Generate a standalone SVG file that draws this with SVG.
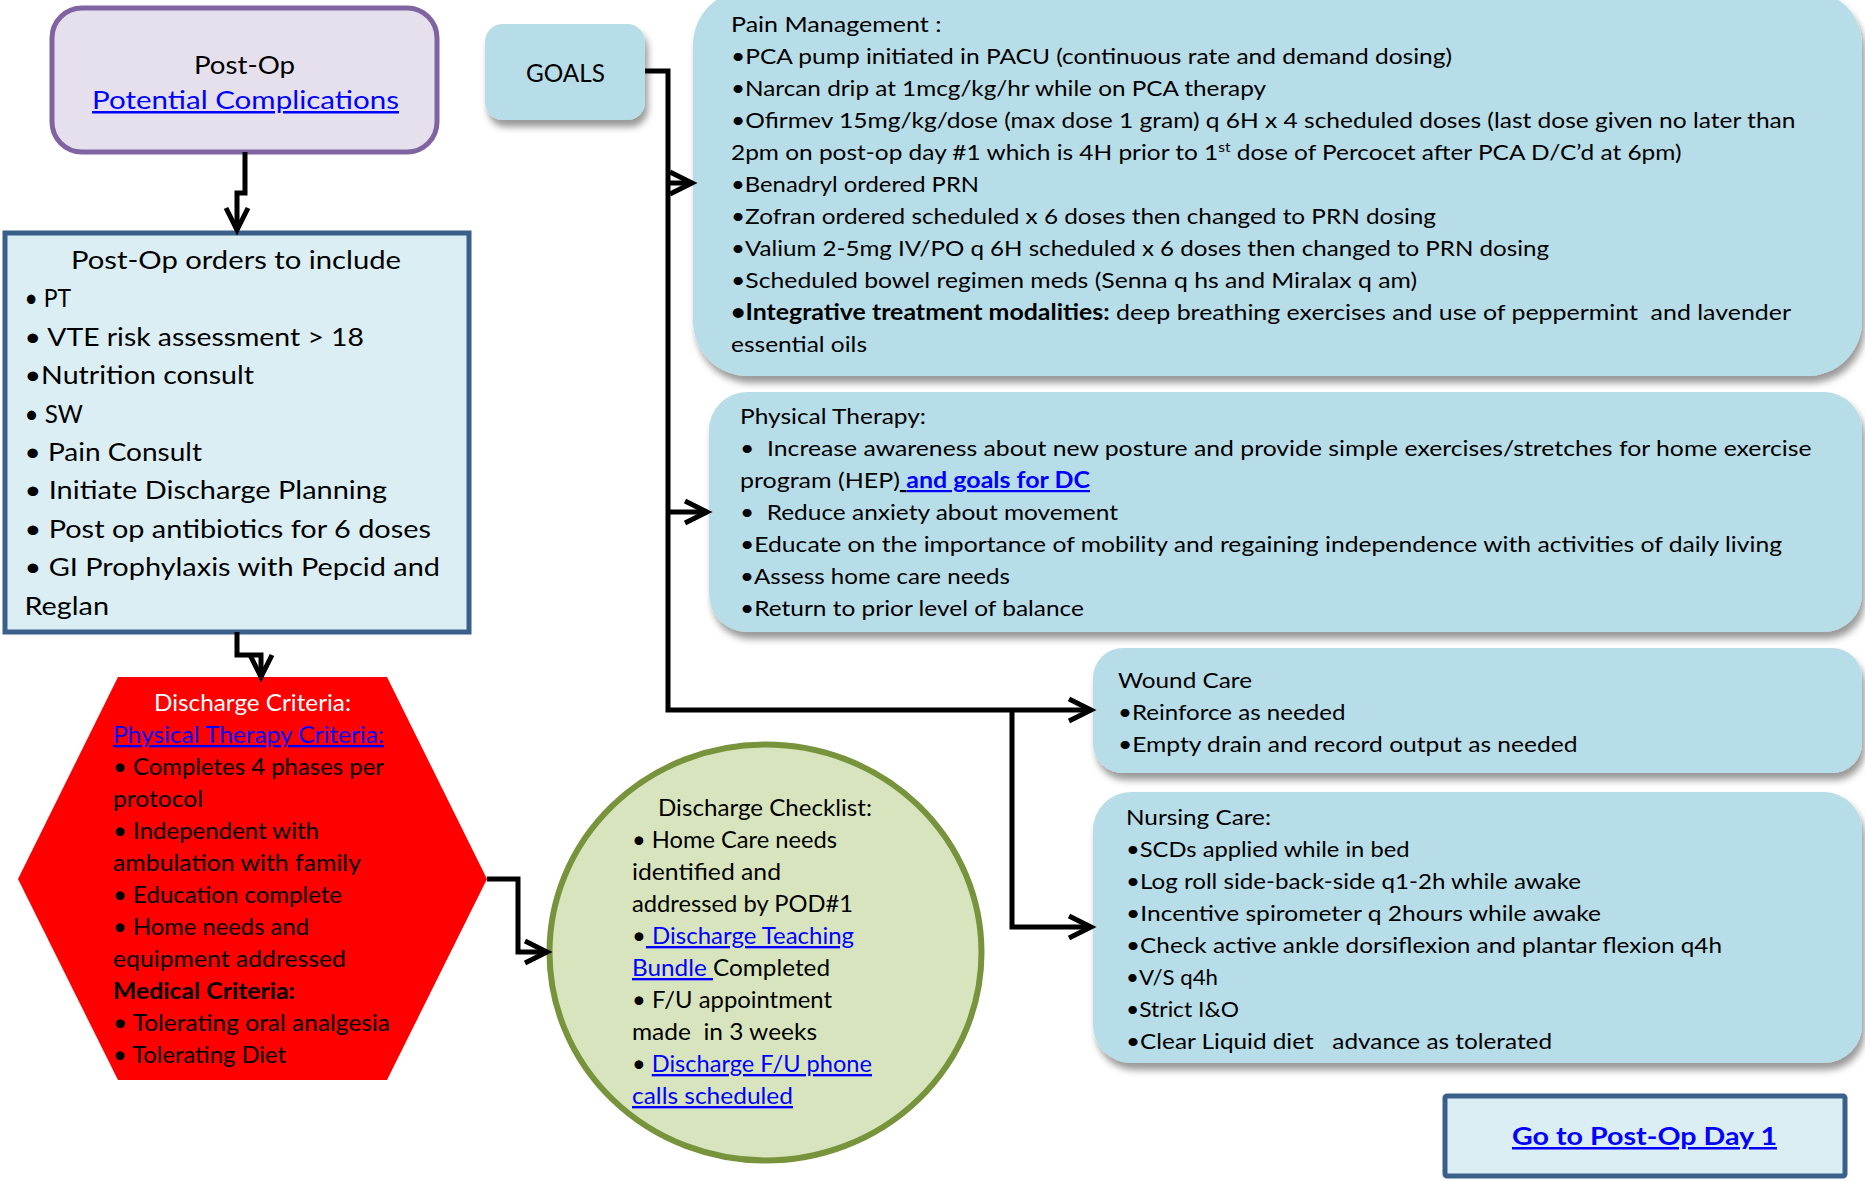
<svg xmlns="http://www.w3.org/2000/svg" width="1865" height="1181" viewBox="0 0 1865 1181">
  <defs>
    <style>
      text { font-family: Lato, "Liberation Sans", sans-serif; fill: #000; white-space: pre; }
      .t22 { font-size: 22px; }
      .t23 { font-size: 23.5px; }
      .t25 { font-size: 25px; }
      .link { fill: #0000FF; text-decoration: underline; }
      .bold { font-weight: bold; }
      .wht { fill: #FFFFFF; }
      .goal { fill: #B7DDE8; filter: url(#shadow); }
      .order { fill: #DBEEF4; stroke: #3A5F8B; stroke-width: 5; }
      .conn { fill: none; stroke: #000; stroke-width: 5; }
      .arr { marker-end: url(#arrow); }
    </style>
    <filter id="shadow" x="-10%" y="-10%" width="125%" height="130%">
      <feDropShadow dx="3" dy="7" stdDeviation="3.5" flood-color="#000" flood-opacity="0.4"/>
    </filter>
    <marker id="arrow" markerUnits="userSpaceOnUse" markerWidth="32" markerHeight="32" viewBox="0 0 32 32" refX="26" refY="16" orient="auto">
      <path d="M4,5 L26,16 L4,27" fill="none" stroke="#000" stroke-width="5" stroke-linejoin="miter"/>
    </marker>
  </defs>
  <rect width="1865" height="1181" fill="#FFFFFF"/>

  <!-- Post-Op header -->
  <g id="postop">
    <rect x="52" y="8" width="385" height="144" rx="30" fill="#E5E0EC" stroke="#8064A2" stroke-width="5"/>
    <text class="t25" x="194" y="74" textLength="101" lengthAdjust="spacingAndGlyphs">Post-Op</text>
    <text class="t25 link" x="92" y="109" textLength="307" lengthAdjust="spacingAndGlyphs">Potential Complications</text>
  </g>

  <!-- Goals tab -->
  <g id="goals">
    <rect class="goal" x="485" y="24" width="160" height="96" rx="18"/>
    <text class="t25" x="526" y="82" textLength="79" lengthAdjust="spacingAndGlyphs">GOALS</text>
  </g>

  <!-- Post-op orders -->
  <g id="orders">
    <rect class="order" x="5" y="233" width="464" height="399"/>
    <text class="t25" x="71" y="269" textLength="330" lengthAdjust="spacingAndGlyphs">Post-Op orders to include</text>
    <text class="t25" x="24.5" y="307.4" textLength="46.5" lengthAdjust="spacingAndGlyphs">• PT</text>
    <text class="t25" x="24.5" y="345.8" textLength="339.5" lengthAdjust="spacingAndGlyphs">• VTE risk assessment &gt; 18</text>
    <text class="t25" x="24.5" y="384.2" textLength="229.5" lengthAdjust="spacingAndGlyphs">•Nutrition consult</text>
    <text class="t25" x="24.5" y="422.6" textLength="58.5" lengthAdjust="spacingAndGlyphs">• SW</text>
    <text class="t25" x="24.5" y="461" textLength="177.5" lengthAdjust="spacingAndGlyphs">• Pain Consult</text>
    <text class="t25" x="24.5" y="499.4" textLength="362.5" lengthAdjust="spacingAndGlyphs">• Initiate Discharge Planning</text>
    <text class="t25" x="24.5" y="537.8" textLength="406.5" lengthAdjust="spacingAndGlyphs">• Post op antibiotics for 6 doses</text>
    <text class="t25" x="24.5" y="576.2" textLength="415.5" lengthAdjust="spacingAndGlyphs">• GI Prophylaxis with Pepcid and</text>
    <text class="t25" x="24.5" y="614.6" textLength="84.5" lengthAdjust="spacingAndGlyphs">Reglan</text>
  </g>

  <!-- Discharge criteria hexagon -->
  <g id="criteria">
    <polygon points="118,677 387,677 487,879 387,1080 118,1080 18,879" fill="#FF0000"/>
    <text class="t23 wht" x="154" y="711" textLength="197" lengthAdjust="spacingAndGlyphs">Discharge Criteria:</text>
    <text class="t23 link" x="113" y="743" textLength="271" lengthAdjust="spacingAndGlyphs">Physical Therapy Criteria:</text>
    <text class="t23" x="113" y="775" textLength="271" lengthAdjust="spacingAndGlyphs">• Completes 4 phases per</text>
    <text class="t23" x="113" y="807" textLength="90" lengthAdjust="spacingAndGlyphs">protocol</text>
    <text class="t23" x="113" y="839" textLength="206" lengthAdjust="spacingAndGlyphs">• Independent with</text>
    <text class="t23" x="113" y="871" textLength="248" lengthAdjust="spacingAndGlyphs">ambulation with family</text>
    <text class="t23" x="113" y="903" textLength="229" lengthAdjust="spacingAndGlyphs">• Education complete</text>
    <text class="t23" x="113" y="935" textLength="196" lengthAdjust="spacingAndGlyphs">• Home needs and</text>
    <text class="t23" x="113" y="967" textLength="233" lengthAdjust="spacingAndGlyphs">equipment addressed</text>
    <text class="t23 bold" x="113" y="999" textLength="182" lengthAdjust="spacingAndGlyphs">Medical Criteria:</text>
    <text class="t23" x="113" y="1031" textLength="277" lengthAdjust="spacingAndGlyphs">• Tolerating oral analgesia</text>
    <text class="t23" x="113" y="1063" textLength="173" lengthAdjust="spacingAndGlyphs">• Tolerating Diet</text>
  </g>

  <!-- Discharge checklist circle -->
  <g id="checklist">
    <ellipse cx="765.5" cy="952.5" rx="216" ry="208" fill="#D7E4BD" stroke="#77933C" stroke-width="6"/>
    <text class="t23" x="658" y="816" textLength="214" lengthAdjust="spacingAndGlyphs">Discharge Checklist:</text>
    <text class="t23" x="632" y="848" textLength="205" lengthAdjust="spacingAndGlyphs">• Home Care needs</text>
    <text class="t23" x="632" y="880" textLength="149" lengthAdjust="spacingAndGlyphs">identified and</text>
    <text class="t23" x="632" y="912" textLength="221" lengthAdjust="spacingAndGlyphs">addressed by POD#1</text>
    <text class="t23" x="632" y="944" textLength="222" lengthAdjust="spacingAndGlyphs">•<tspan class="link"> Discharge Teaching</tspan></text>
    <text class="t23" x="632" y="976" textLength="198" lengthAdjust="spacingAndGlyphs"><tspan class="link">Bundle </tspan>Completed</text>
    <text class="t23" x="632" y="1008" textLength="200" lengthAdjust="spacingAndGlyphs">• F/U appointment</text>
    <text class="t23" x="632" y="1040" textLength="185" lengthAdjust="spacingAndGlyphs">made  in 3 weeks</text>
    <text class="t23" x="632" y="1072" textLength="240" lengthAdjust="spacingAndGlyphs">• <tspan class="link">Discharge F/U phone</tspan></text>
    <text class="t23 link" x="632" y="1104" textLength="161" lengthAdjust="spacingAndGlyphs">calls scheduled</text>
  </g>

  <!-- Pain management -->
  <g id="pain">
    <rect class="goal" x="693" y="-10" width="1169" height="386" rx="55"/>
    <text class="t22" x="731" y="32" textLength="210.5" lengthAdjust="spacingAndGlyphs">Pain Management :</text>
    <text class="t22" x="731" y="64" textLength="721" lengthAdjust="spacingAndGlyphs">•PCA pump initiated in PACU (continuous rate and demand dosing)</text>
    <text class="t22" x="731" y="96" textLength="535" lengthAdjust="spacingAndGlyphs">•Narcan drip at 1mcg/kg/hr while on PCA therapy</text>
    <text class="t22" x="731" y="128" textLength="1064.5" lengthAdjust="spacingAndGlyphs">•Ofirmev 15mg/kg/dose (max dose 1 gram) q 6H x 4 scheduled doses (last dose given no later than</text>
    <text class="t22" x="731" y="160" textLength="950.5" lengthAdjust="spacingAndGlyphs">2pm on post-op day #1 which is 4H prior to 1<tspan dy="-8" font-size="14">st</tspan><tspan dy="8"> dose of Percocet after PCA D/C’d at 6pm)</tspan></text>
    <text class="t22" x="731" y="192" textLength="248" lengthAdjust="spacingAndGlyphs">•Benadryl ordered PRN</text>
    <text class="t22" x="731" y="224" textLength="705" lengthAdjust="spacingAndGlyphs">•Zofran ordered scheduled x 6 doses then changed to PRN dosing</text>
    <text class="t22" x="731" y="256" textLength="818" lengthAdjust="spacingAndGlyphs">•Valium 2-5mg IV/PO q 6H scheduled x 6 doses then changed to PRN dosing</text>
    <text class="t22" x="731" y="288" textLength="686" lengthAdjust="spacingAndGlyphs">•Scheduled bowel regimen meds (Senna q hs and Miralax q am)</text>
    <text class="t22" x="731" y="320" textLength="1060" lengthAdjust="spacingAndGlyphs"><tspan class="bold">•Integrative treatment modalities:</tspan> deep breathing exercises and use of peppermint  and lavender</text>
    <text class="t22" x="731" y="352" textLength="136" lengthAdjust="spacingAndGlyphs">essential oils</text>
  </g>

  <!-- Physical therapy -->
  <g id="therapy">
    <rect class="goal" x="709" y="392" width="1153" height="240" rx="38"/>
    <text class="t22" x="740" y="424" textLength="186" lengthAdjust="spacingAndGlyphs">Physical Therapy:</text>
    <text class="t22" x="740" y="456" textLength="1071.5" lengthAdjust="spacingAndGlyphs">•  Increase awareness about new posture and provide simple exercises/stretches for home exercise</text>
    <text class="t22" x="740" y="488" textLength="350" lengthAdjust="spacingAndGlyphs">program (HEP)<tspan text-decoration="underline"> </tspan><tspan class="link bold">and goals for DC</tspan></text>
    <text class="t22" x="740" y="520" textLength="378" lengthAdjust="spacingAndGlyphs">•  Reduce anxiety about movement</text>
    <text class="t22" x="740" y="552" textLength="1042" lengthAdjust="spacingAndGlyphs">•Educate on the importance of mobility and regaining independence with activities of daily living</text>
    <text class="t22" x="740" y="584" textLength="270" lengthAdjust="spacingAndGlyphs">•Assess home care needs</text>
    <text class="t22" x="740" y="616" textLength="344" lengthAdjust="spacingAndGlyphs">•Return to prior level of balance</text>
  </g>

  <!-- Wound care -->
  <g id="wound">
    <rect class="goal" x="1093" y="648" width="769" height="125" rx="30"/>
    <text class="t22" x="1118" y="688" textLength="134" lengthAdjust="spacingAndGlyphs">Wound Care</text>
    <text class="t22" x="1118" y="720" textLength="227.5" lengthAdjust="spacingAndGlyphs">•Reinforce as needed</text>
    <text class="t22" x="1118" y="752" textLength="459.5" lengthAdjust="spacingAndGlyphs">•Empty drain and record output as needed</text>
  </g>

  <!-- Nursing care -->
  <g id="nursing">
    <rect class="goal" x="1093" y="792" width="769" height="271" rx="38"/>
    <text class="t22" x="1126" y="825" textLength="145" lengthAdjust="spacingAndGlyphs">Nursing Care:</text>
    <text class="t22" x="1126" y="857" textLength="283.5" lengthAdjust="spacingAndGlyphs">•SCDs applied while in bed</text>
    <text class="t22" x="1126" y="889" textLength="455" lengthAdjust="spacingAndGlyphs">•Log roll side-back-side q1-2h while awake</text>
    <text class="t22" x="1126" y="921" textLength="475" lengthAdjust="spacingAndGlyphs">•Incentive spirometer q 2hours while awake</text>
    <text class="t22" x="1126" y="953" textLength="596" lengthAdjust="spacingAndGlyphs">•Check active ankle dorsiflexion and plantar flexion q4h</text>
    <text class="t22" x="1126" y="985" textLength="92" lengthAdjust="spacingAndGlyphs">•V/S q4h</text>
    <text class="t22" x="1126" y="1017" textLength="113" lengthAdjust="spacingAndGlyphs">•Strict I&amp;O</text>
    <text class="t22" x="1126" y="1049" textLength="426" lengthAdjust="spacingAndGlyphs">•Clear Liquid diet   advance as tolerated</text>
  </g>

  <!-- Next day link -->
  <g id="nextday">
    <rect class="order" x="1445" y="1096" width="400" height="80" rx="2"/>
    <text class="t25 link bold" x="1512" y="1145" textLength="265" lengthAdjust="spacingAndGlyphs">Go to Post-Op Day 1</text>
  </g>

  <!-- Connectors -->
  <g id="connectors">
    <path class="conn arr" d="M245,152 V193 H237 V230"/>
    <path class="conn arr" d="M237,632 V655 H261 V677"/>
    <path class="conn arr" d="M487,879 H518 V952 H547"/>
    <path class="conn arr" d="M645,71 H668 V710 H1091"/>
    <path class="conn arr" d="M668,183 H692"/>
    <path class="conn arr" d="M668,512 H707"/>
    <path class="conn arr" d="M1012,710 V927 H1091"/>
  </g>
</svg>
